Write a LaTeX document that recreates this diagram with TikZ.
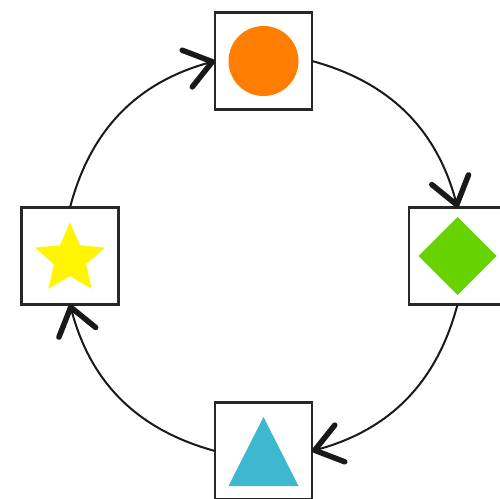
\documentclass[tikz,border=0pt]{standalone}
\usetikzlibrary{arrows.meta}
\definecolor{boxline}{RGB}{40,40,40}
\definecolor{shorange}{RGB}{255,125,0}
\definecolor{shgreen}{RGB}{102,210,0}
\definecolor{shblue}{RGB}{62,184,208}
\definecolor{shyellow}{RGB}{255,245,0}
\begin{document}
\begin{tikzpicture}[x=1pt,y=-1pt,
  box/.style={draw=boxline,line width=2.6pt,fill=white,minimum size=97pt,inner sep=0pt,outer sep=0pt},
  link/.style={line width=2pt,draw=black!90,
    -{Straight Barb[length=26pt,width=38pt,line width=5.5pt,round]}}]
\useasboundingbox (0,0) rectangle (500,498);
\clip (0,0) rectangle (500,498);
\node[box] (top) at (263.5,61) {};
\node[box] (right) at (457.5,256) {};
\node[box] (bottom) at (263.5,451) {};
\node[box] (left) at (70,256) {};
% shapes
\fill[shorange] (top) circle (35pt);
\fill[shgreen] ([yshift=-39pt]right.center) -- ([xshift=39pt]right.center) -- ([yshift=39pt]right.center) -- ([xshift=-39pt]right.center) -- cycle;
\fill[shblue] ([yshift=34pt]bottom.center) -- ([xshift=35pt,yshift=-35pt]bottom.center) -- ([xshift=-35pt,yshift=-35pt]bottom.center) -- cycle;
\fill[shyellow] ([yshift=-3pt]left.center) +(90:36.8pt)
  \foreach \i in {0,...,4} {
    -- +({90+72*\i}:36.8pt) -- +({126+72*\i}:17pt)
  } -- cycle;
% connectors
\draw[link] (left.north) to[bend left=30] (top.west);
\draw[link] (top.east) to[bend left=30] (right.north);
\draw[link] (right.south) to[bend left=30] (bottom.east);
\draw[link] (bottom.west) to[bend left=30] (left.south);
\end{tikzpicture}
\end{document}
